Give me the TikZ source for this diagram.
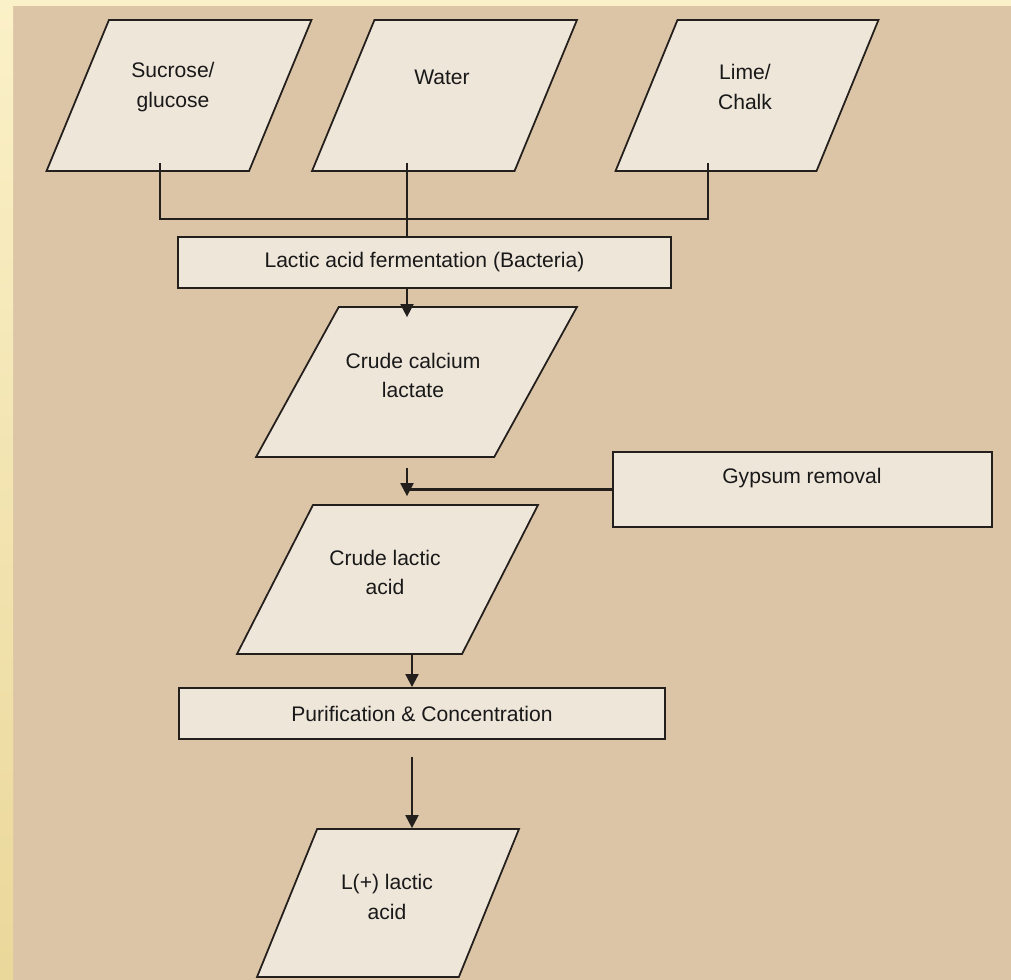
\documentclass[tikz,border=0pt]{standalone}
\usepackage{fontspec}
\setmainfont{Liberation Sans}
\usetikzlibrary{positioning,shapes.geometric,arrows.meta,calc}
\definecolor{bgtan}{HTML}{DCC5A6}
\definecolor{boxfill}{HTML}{EFE6DA}
\definecolor{inkdark}{HTML}{231F1C}
\definecolor{railtop}{HTML}{FBF1C8}
\definecolor{railbot}{HTML}{EAD79A}

\begin{document}
\begin{tikzpicture}[x=0.02cm, y=-0.02cm,
  every node/.style={font=\fontsize{12}{16.7}\selectfont, text=black!90},
  block/.style={rectangle, draw=inkdark, line width=1.1pt, fill=boxfill, inner sep=2pt, align=center},
  io/.style 2 args={trapezium, trapezium left angle=#1, trapezium right angle=#2,
             trapezium stretches=true, draw=inkdark, line width=1pt, fill=boxfill, inner sep=2pt},
  lbl/.style={align=center, inner sep=1pt},
  link/.style={draw=inkdark, line width=1.2pt},
  arr/.style={link, -{Triangle[length=0.26cm, width=0.26cm]}}
]
\useasboundingbox (0,0) rectangle (1011,980);
% background and left rail
\fill[bgtan] (0,0) rectangle (1011,980);
\shade[top color=railtop, bottom color=railbot] (0,0) rectangle (13,980);
\fill[railtop] (13,0) rectangle (1011,6);

% raw materials
\node[io={66}{114}, minimum width=5.3cm, minimum height=3.02cm] (sug) at (179,95.5) {};
\node[io={66}{114}, minimum width=5.3cm, minimum height=3.02cm] (wat) at (444.5,95.5) {};
\node[io={66}{114}, minimum width=5.26cm, minimum height=3.02cm] (lime) at (747,95.5) {};
\node[lbl] (sugtx) at (173,87) {Sucrose/\\glucose};
\node[lbl] (wattx) at (442,77) {Water};
\node[lbl] (limetx) at (745,87) {Lime/\\Chalk};

% process chain
\node[block, minimum width=9.86cm, minimum height=1.02cm] (ferm) at (424.5,262.5) {Lactic acid fermentation (Bacteria)};
\node[io={62}{118}, minimum width=6.42cm, minimum height=3.0cm] (ccl) at (416.5,382) {};
\node[lbl] (ccltx) at (413,375.5) {Crude calcium\\lactate};
\node[block, minimum width=7.58cm, minimum height=1.5cm] (gyp) at (802.5,489.5) {};
\node[lbl] (gyptx) at (802,478) {Gypsum removal};
\node[io={63}{117}, minimum width=6.02cm, minimum height=2.98cm] (clac) at (387.5,579.5) {};
\node[lbl] (clactx) at (385,572.5) {Crude lactic\\acid};
\node[block, minimum width=9.72cm, minimum height=1.02cm] (pur) at (422,713.5) {Purification \&\ Concentration};
\node[io={67}{113}, minimum width=5.24cm, minimum height=2.96cm] (lac) at (388,903) {};
\node[lbl] (lactx) at (387,897) {L(+) lactic\\acid};

% connectors
\coordinate (busL) at (160,219);
\coordinate (busW) at (407,219);
\coordinate (busR) at (708,219);
\coordinate (spine) at (412,0);
\draw[link] ($(sug.south -| busL)+(0,-9)$) -- (busL) -- (busR) -- ($(lime.south -| busR)+(0,-9)$);
\draw[link] ($(wat.south -| busW)+(0,-9)$) -- (ferm.north -| busW);
\draw[arr] (ferm.south -| busW) -- ($(ccl.north -| busW)+(0,11)$);
\draw[arr] ($(ccl.south -| busW)+(0,10)$) -- ($(clac.north -| busW)+(0,-8)$);
\draw[link] (gyp.west) -- (gyp.west -| busW);
\draw[arr] (clac.south -| spine) -- (pur.north -| spine);
\draw[arr] ($(pur.south -| spine)+(0,17)$) -- (lac.north -| spine);
\end{tikzpicture}
\end{document}
